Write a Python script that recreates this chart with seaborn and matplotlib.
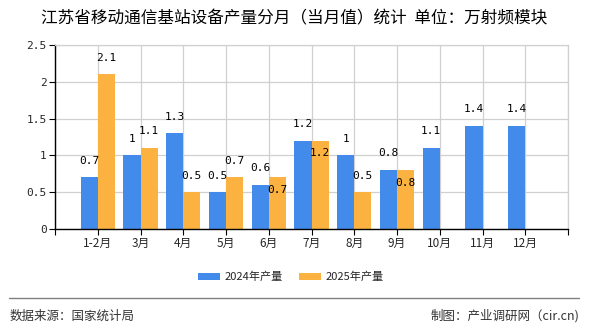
import numpy as np
import pandas as pd
import matplotlib
matplotlib.use("Agg")
import matplotlib.pyplot as plt
import seaborn as sns

categories = ["1-2月", "3月", "4月", "5月", "6月", "7月", "8月", "9月", "10月", "11月", "12月"]
values_2024 = [0.7, 1, 1.3, 0.5, 0.6, 1.2, 1, 0.8, 1.1, 1.4, 1.4]
values_2025 = [2.1, 1.1, 0.5, 0.7, 0.7, 1.2, 0.5, 0.8, np.nan, np.nan, np.nan]
series_names = ["2024年产量", "2025年产量"]
y_ticks = [0, 0.5, 1, 1.5, 2, 2.5]
title = "江苏省移动通信基站设备产量分月（当月值）统计  单位：万射频模块"
source_text = "数据来源：国家统计局"
credit_text = "制图：产业调研网（cir.cn)"
# style: whether the 2025 value label sits just inside the bar top
label_inside_2025 = [False, False, False, False, True, True, False, True]

colors = ["#438BEB", "#FBB240"]

sns.set_theme(style="white")
plt.rcParams["font.family"] = ["Noto Sans CJK SC", "DejaVu Sans"]

df = pd.DataFrame({
    "month": categories * 2,
    "value": values_2024 + values_2025,
    "series": [series_names[0]] * len(categories) + [series_names[1]] * len(categories),
})

fig = plt.figure(figsize=(5.9, 3.3), dpi=100)
ax = fig.add_axes([55 / 590, 1 - 229 / 330, 513 / 590, 184 / 330])

sns.barplot(data=df.dropna(), x="month", y="value", hue="series", order=categories,
            hue_order=series_names, palette=colors, width=0.8, saturation=1,
            ax=ax, legend=True, linewidth=0)

ax.set_xlim(-1, len(categories))
ax.set_ylim(0, 2.5)
ax.set_yticks(y_ticks)
ax.set_yticklabels([f"{t:g}" for t in y_ticks], family="DejaVu Sans Mono", fontsize=8)
ax.set_xticks(range(-1, len(categories) + 1))
ax.set_xticklabels([""] + categories + [""], fontsize=8.5)
ax.set_xlabel("")
ax.set_ylabel("")

ax.grid(True, color="#d0d0d0", linewidth=0.9)
ax.set_axisbelow(True)
for s in ["top", "right"]:
    ax.spines[s].set_color("#d0d0d0")
    ax.spines[s].set_linewidth(0.9)
for s in ["left", "bottom"]:
    ax.spines[s].set_color("black")
    ax.spines[s].set_linewidth(1.0)
ax.tick_params(axis="both", which="both", length=4, width=0.8, color="black", pad=2)
ax.tick_params(axis="x", length=4, direction="out", bottom=True)
ax.tick_params(axis="y", left=True)

# value labels
for ci, cont in enumerate(ax.containers):
    idx = 0
    for bar in cont:
        h = bar.get_height()
        if np.isnan(h):
            continue
        xc = bar.get_x() + bar.get_width() / 2
        inside = ci == 1 and idx < len(label_inside_2025) and label_inside_2025[idx]
        off = -9 if inside else 12
        ax.annotate(f"{h:g}", (xc, h), xytext=(0, off), textcoords="offset points",
                    ha="center", va="center", fontsize=8, family="DejaVu Sans Mono",
                    color="black")
        idx += 1

leg = ax.legend(loc="center", bbox_to_anchor=(291 / 590, (330 - 277) / 330),
                bbox_transform=fig.transFigure, ncol=2, frameon=False, fontsize=8,
                handlelength=2.0, handleheight=0.63, columnspacing=1.45, handletextpad=0.4)

fig.text(294 / 590, 1 - 19 / 330, title, ha="center", va="center", fontsize=12,
         color="black", fontweight="medium")
fig.add_artist(plt.Line2D([9 / 590, 579 / 590], [1 - 298 / 330, 1 - 298 / 330],
                          color="#808080", linewidth=1.0, transform=fig.transFigure))
fig.text(10 / 590, 1 - 316 / 330, source_text, ha="left", va="center", fontsize=9, color="#333333")
fig.text(579 / 590, 1 - 316 / 330, credit_text, ha="right", va="center", fontsize=9, color="#333333")

fig.savefig("out.png", dpi=100)
